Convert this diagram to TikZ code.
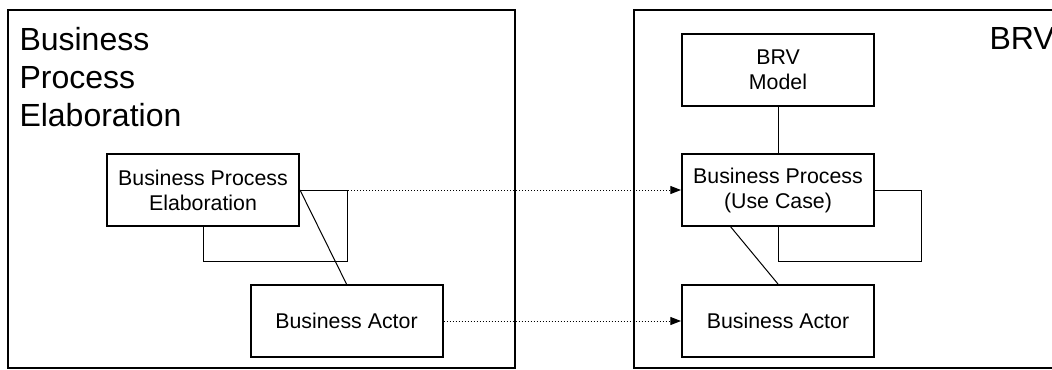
\documentclass[tikz,border=0pt]{standalone}
\usepackage{fontspec}
\setmainfont{Liberation Sans}
\usetikzlibrary{arrows.meta}

\tikzset{every picture/.style={line width=0.75pt}}
\tikzset{
frame/.style={draw=black, line width=1.5pt},
box/.style={draw=black, line width=1.5pt, fill=white,
            minimum width=144pt, minimum height=54pt, inner sep=0pt,
            align=center, font=\fontsize{16}{18.75}\selectfont},
title/.style={anchor=north west, inner sep=0pt, align=left,
              font=\fontsize{24}{28.5}\selectfont},
link/.style={black, line width=0.75pt},
trace/.style={black, line width=0.75pt, dash pattern={on 0.75pt off 1.5pt},
              -{Triangle[length=8pt,width=6pt]}}
}

\begin{document}
\begin{tikzpicture}[x=0.75pt,y=0.75pt,yscale=-1,xscale=1]

\useasboundingbox (0,0) rectangle (1052,369);

% FRAMES

\draw [frame] (8,10) rectangle (515,368);
\draw [frame] (634,10) rectangle (1070,368);

% TITLES

\node [title] (bpetitle) at (19,27) {Business\\Process\\Elaboration};
\node [title] (brvtitle) at (989,27) {BRV};

% BOXES

\node [box] (bpe) at (203,190) {Business Process\\Elaboration};
\node [box] (bal) at (346.5,321) {Business Actor};
\node [box] (brv) at (778,70) {BRV\\Model};
\node [box] (bp) at (778,190) {Business Process\\(Use Case)};
\node [box] (bar) at (778,321) {Business Actor};

% COORDINATES

\coordinate (bpeloop) at (347,261);
\coordinate (bploop) at (921,261);
\coordinate (bpfoot) at (730,226);

% TRACES

\draw [trace] (bpe.east) -- (bp.west);
\draw [trace] (bal.east) -- (bar.west);

% LINKS

\draw [link] (bpe.east) -| (bpeloop) -| (bpe.south);
\draw [link] (bp.east) -| (bploop) -| (bp.south);
\draw [link] (brv) -- (bp);
\draw [link] (bpe.east) -- (bal.north);
\draw [link] (bpfoot) -- (bar.north);

\end{tikzpicture}
\end{document}
